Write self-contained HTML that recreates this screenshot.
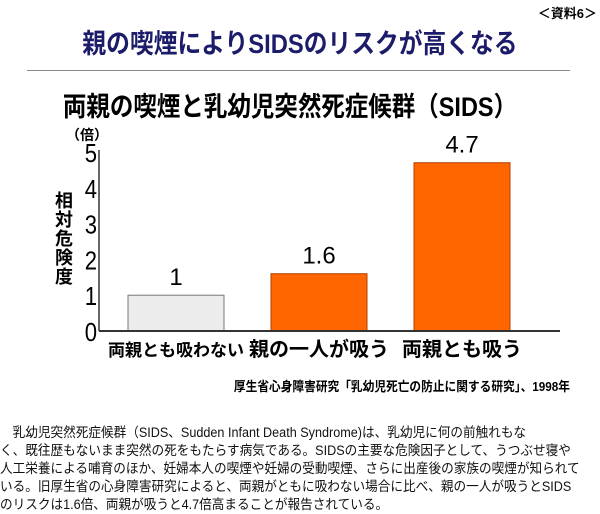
<!DOCTYPE html>
<html><head><meta charset="utf-8">
<style>
body{margin:0;width:600px;height:513px;background:#fff;position:relative;overflow:hidden;font-family:"Liberation Sans","Noto Sans CJK JP",sans-serif;}
.abs{position:absolute;white-space:nowrap;}
#title{left:0;width:600px;top:22px;text-align:center;font-size:27px;font-weight:bold;color:#1c1c6a;transform:scaleX(0.88);}
#tag{right:3px;top:3px;font-size:13px;font-weight:bold;}
#rule{left:27px;top:70px;width:543px;height:1px;background:#888;}
#ctitle{left:-10px;width:600px;top:85px;text-align:center;font-size:27px;font-weight:bold;transform:scaleX(0.87);}
#source{left:0;width:570px;text-align:right;top:376px;font-size:13px;font-weight:bold;transform:scaleX(0.9);transform-origin:right;}
#para{left:0;top:424px;font-size:13.5px;line-height:18px;color:#111;white-space:nowrap;transform:scaleX(0.935);transform-origin:left;}
</style></head><body>
<div class="abs" id="tag">＜資料6＞</div>
<div class="abs" id="title">親の喫煙によりSIDSのリスクが高くなる</div>
<div class="abs" id="rule"></div>
<div class="abs" id="ctitle">両親の喫煙と乳幼児突然死症候群（SIDS）</div>
<svg class="abs" style="left:0;top:0" width="600" height="370" id="chart"></svg>
<div class="abs" id="source">厚生省心身障害研究「乳幼児死亡の防止に関する研究」、1998年</div>
<div class="abs" id="para">　乳幼児突然死症候群（SIDS、Sudden Infant Death Syndrome)は、乳幼児に何の前触れもな<br>く、既往歴もないまま突然の死をもたらす病気である。SIDSの主要な危険因子として、うつぶせ寝や<br>人工栄養による哺育のほか、妊婦本人の喫煙や妊婦の受動喫煙、さらに出産後の家族の喫煙が知られて<br>いる。旧厚生省の心身障害研究によると、両親がともに吸わない場合に比べ、親の一人が吸うとSIDS<br>のリスクは1.6倍、両親が吸うと4.7倍高まることが報告されている。</div>
<script>
const categories=["両親とも吸わない","親の一人が吸う","両親とも吸う"];
const values=[1,1.6,4.7];
const valueLabels=["1","1.6","4.7"];
const yTicks=[0,1,2,3,4,5];
const colors=["#ececec","#ff6600","#ff6600"];
const svg=document.getElementById('chart');
const NS="http://www.w3.org/2000/svg";
const x0=99,y0=331,yTop=152,yMax=5;
const y=v=>y0-(y0-yTop)*v/yMax;
const barW=96,slot=143,firstX=128;
const bx=i=>firstX+i*slot;
function mk(t,a,txt){const e=document.createElementNS(NS,t);for(const k in a)e.setAttribute(k,a[k]);if(txt!==undefined)e.textContent=txt;svg.appendChild(e);return e;}
const F='"Liberation Sans","Noto Sans CJK JP",sans-serif';
yTicks.forEach(t=>{
 const l=mk('text',{x:97,y:y(t)+10,'text-anchor':'end','font-size':'26','font-family':F,transform:'translate(97,0) scale(0.85,1) translate(-97,0)'},String(t));
 
 
});
const ax=mk('line',{x1:x0,y1:yTop-2,x2:x0,y2:y0,stroke:'#333','stroke-width':1.5});


const unit=mk('text',{x:66,y:140,'font-size':'14','font-weight':'bold','font-family':F},'（倍）');


['相','対','危','険','度'].forEach((c,i)=>{
 const t=mk('text',{x:64,y:207+i*19,'text-anchor':'middle','font-size':'18','font-weight':'bold','font-family':F},c);
 
 
});
values.forEach((v,i)=>{
 const r=mk('rect',{x:bx(i),y:y(v),width:barW,height:y0-y(v),fill:colors[i],stroke:i==0?'#777':'#b04000','stroke-width':1});
 
 
 const vl=mk('text',{x:bx(i)+barW/2,y:y(v)-10,'text-anchor':'middle','font-size':'24','font-family':F},valueLabels[i]);
 
 
 const cl=mk('text',{x:bx(i)+barW/2,y:356,'text-anchor':'middle','font-size':i==0?'17':'20','font-weight':'bold','font-family':F},categories[i]);
 
 
});
const xa=mk('line',{x1:x0,y1:y0,x2:560,y2:y0,stroke:'#333','stroke-width':2});


</script>
</body></html>
